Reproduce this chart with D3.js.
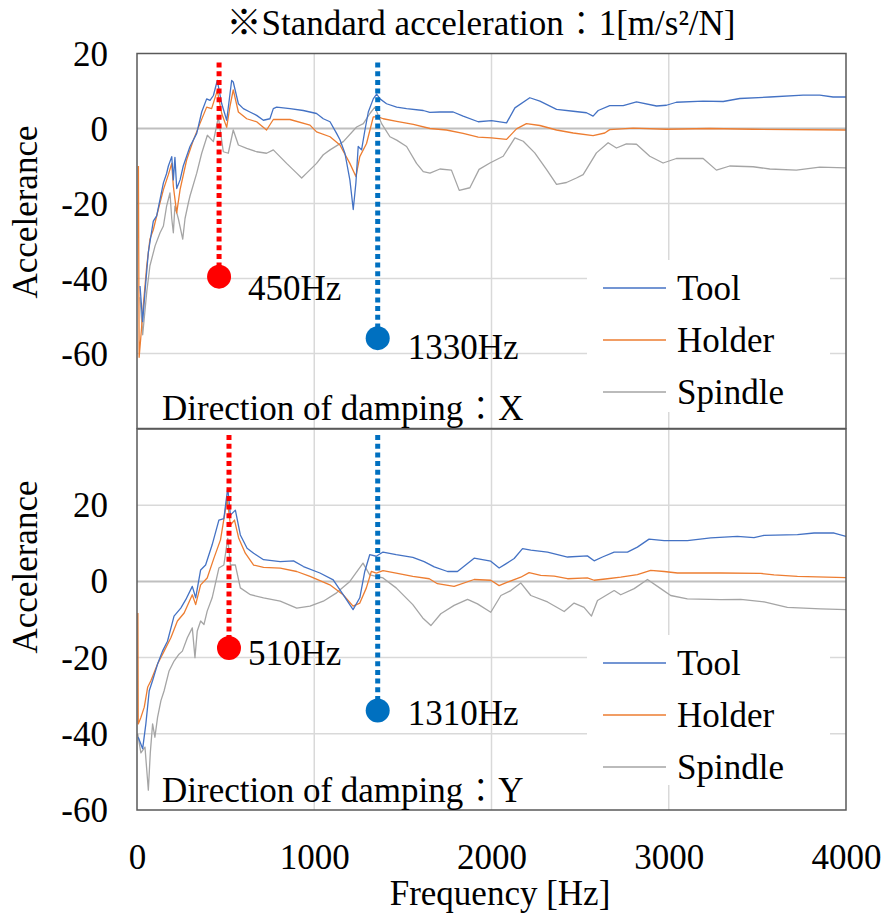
<!DOCTYPE html>
<html>
<head>
<meta charset="utf-8">
<script src="https://cdn.jsdelivr.net/npm/d3@7/dist/d3.min.js"></script>
<style>
  html, body { margin: 0; padding: 0; background: #fff; }
  svg text { font-family: "Liberation Serif", "Times New Roman", "Noto Serif CJK JP", "Noto Sans CJK JP", serif; fill: #000; }
</style>
</head>
<body>
<svg id="chart" width="887" height="919"></svg>
<script>
// ---------------- DATA ----------------
const seriesNames = ["Tool", "Holder", "Spindle"];
const freqTicks = [0, 1000, 2000, 3000, 4000];
const yTicksTop = [20, 0, -20, -40, -60];
const yTicksBottom = [20, 0, -20, -40, -60];
const titleText = "※Standard acceleration：1[m/s²/N]";
const xAxisTitle = "Frequency [Hz]";
const yAxisTitle = "Accelerance";
const panelLabels = ["Direction of damping：X", "Direction of damping：Y"];

// Direction X (top panel): [frequency Hz, accelerance]
const toolX = [[17,-42],[32,-51.5],[45,-43.6],[64,-33],[92,-24.7],[111,-23.3],[149,-14.5],[167,-12],[177,-10],[196,-7.5],[205,-13.7],[214,-7.7],[224,-16],[243,-13.7],[261,-10],[299,-4.8],[337,-1.3],[365,4.4],[393,7.9],[412,7.5],[431,8.8],[453,12.8],[478,6.6],[506,2.2],[534,12.8],[543,12.4],[572,6.6],[600,5.3],[637,4.4],[675,3.5],[713,2.2],[750,2.6],[769,5.3],[788,5.7],[863,5.3],[938,4.8],[1013,4],[1051,2.6],[1089,1.8],[1126,-1.3],[1145,-3],[1173,-6.6],[1201,-13.7],[1220,-21.6],[1235,-14.5],[1248,-4.8],[1267,-5.7],[1286,-0.4],[1305,4.4],[1333,7.9],[1352,9.2],[1371,7.9],[1408,6.6],[1465,5.7],[1521,5.3],[1615,4.8],[1652,4.3],[1709,4.4],[1784,4.4],[1840,3.3],[1925,1.8],[2000,2.1],[2085,1.5],[2132,5.5],[2216,8.2],[2273,7.3],[2367,5.1],[2461,4.6],[2536,4.2],[2573,3.3],[2602,4.8],[2667,6.1],[2743,6.1],[2818,7.1],[2931,6],[2987,6.2],[3043,7],[3194,7.3],[3307,7.2],[3401,8],[3570,8.4],[3758,8.9],[3852,8.9],[3927,8.4],[4000,8.4]];
const holderX = [[8,-10],[12,-61],[21,-56],[36,-47],[55,-36.6],[73,-29.5],[92,-27],[120,-21.6],[149,-16.3],[177,-12.3],[196,-9.3],[205,-15.4],[224,-22.5],[243,-16.3],[280,-8.4],[318,-3.1],[355,1.3],[393,5.7],[421,5.3],[453,10.1],[478,4],[506,0.3],[525,6],[543,10.3],[572,4.4],[619,2.6],[675,1.8],[731,-0.4],[769,2.4],[863,2.4],[976,0.9],[1013,-0.9],[1089,-2.2],[1145,-4.4],[1201,-9.3],[1235,-12.8],[1257,-7.5],[1295,-4],[1333,3.1],[1361,3.1],[1389,2.6],[1465,1.9],[1559,1.1],[1653,0],[1746,-0.4],[1840,-1.3],[1925,-2.3],[2000,-2.5],[2085,-2.9],[2141,-0.1],[2197,1.3],[2273,0.8],[2367,-0.4],[2461,-1.2],[2573,-1.9],[2639,-1.2],[2667,-0.3],[2799,0.1],[2987,-0.2],[3231,0],[3476,-0.2],[4000,-0.4]];
const spindleX = [[17,-45],[32,-55],[55,-43.6],[73,-36.6],[102,-31.3],[130,-27.8],[149,-26],[167,-20.7],[186,-17.2],[196,-24],[205,-27.8],[214,-20.7],[233,-24],[258,-29.5],[271,-24],[290,-19.8],[299,-18],[337,-11.9],[365,-6.6],[397,-1.8],[431,-3.5],[459,3.1],[487,-6.2],[515,-6.6],[543,-0.4],[572,-4.4],[619,-5.3],[675,-6.2],[731,-6.6],[769,-5.7],[844,-9.3],[901,-11.9],[929,-13.2],[957,-11.9],[1013,-9.3],[1051,-7],[1089,-5.7],[1164,-3.5],[1239,0.4],[1277,1.3],[1314,4],[1342,5.7],[1380,1.3],[1427,-2.2],[1465,-3.1],[1521,-4.8],[1577,-9.3],[1615,-11.5],[1653,-11.9],[1709,-10.8],[1774,-11.1],[1818,-16.5],[1878,-15.8],[1930,-10.9],[1991,-9.2],[2066,-7.4],[2132,-2.5],[2179,-3.4],[2244,-6.5],[2310,-10.9],[2367,-14.9],[2423,-14.4],[2479,-13.2],[2517,-12.3],[2592,-6.5],[2658,-3.8],[2705,-5.2],[2761,-4.1],[2818,-4.2],[2893,-7.4],[2968,-9.2],[3043,-8],[3194,-8],[3269,-11.1],[3344,-10],[3476,-10.2],[3570,-10.8],[3720,-11.1],[3852,-10.3],[4000,-10.5]];

// Direction Y (bottom panel)
const toolY = [[7,-40.9],[32,-43.9],[50,-37.4],[69,-28.7],[88,-26],[116,-21.7],[144,-18.3],[172,-15.7],[209,-9.1],[247,-7],[275,-4.8],[312,-1.3],[331,-4.3],[359,3],[387,4.3],[424,9.6],[462,16.1],[490,16.5],[512,24.5],[527,17.4],[555,18.7],[583,12.2],[621,8.7],[658,7.4],[714,5.7],[808,5.2],[883,5.4],[939,3.9],[1032,2.2],[1107,0.4],[1163,-3.5],[1219,-7.4],[1257,-4.3],[1285,2.6],[1313,7],[1350,6.6],[1388,7.7],[1462,7],[1556,6.3],[1620,5.2],[1677,3.8],[1752,2.6],[1808,2.6],[1902,6.1],[1996,5.3],[2043,3.5],[2081,4.6],[2128,6],[2175,8.6],[2222,8.2],[2316,7.7],[2429,6.4],[2541,6.7],[2579,5.4],[2626,6.4],[2692,7.7],[2767,7.7],[2823,9],[2889,11.1],[2974,10.7],[3105,10.7],[3237,11.4],[3387,11.8],[3481,11.5],[3538,12.1],[3726,12.3],[3820,12.7],[3933,12.7],[4000,11.8]];
const holderY = [[5,-8.3],[7,-37.4],[22,-35.7],[41,-33],[60,-27.8],[79,-26],[116,-21.7],[153,-18.3],[191,-14.8],[228,-10.4],[266,-8.3],[312,-3.5],[331,-6.1],[359,-0.9],[396,0.9],[434,6.1],[471,10.9],[509,21.7],[527,14.8],[550,16.1],[574,11.3],[611,7.4],[658,4.3],[714,3.7],[808,3.5],[901,2.6],[976,1.3],[1088,-0.9],[1163,-3.5],[1219,-6.5],[1257,-5.7],[1294,-1.7],[1322,2.6],[1350,2.2],[1388,2.8],[1462,2.2],[1556,1.3],[1649,0.7],[1695,-0.6],[1789,-1.3],[1902,0.5],[1996,0.3],[2043,-1.1],[2090,-0.2],[2165,1.1],[2212,2.3],[2278,1.6],[2354,1.4],[2429,0.7],[2541,0.9],[2579,0.3],[2654,0.7],[2729,1.1],[2823,1.8],[2898,2.9],[2974,2.6],[3049,2.2],[3293,2.2],[3519,2.1],[3594,1.7],[3726,1.3],[4000,1]];
const spindleY = [[4,-40],[22,-45],[45,-43.5],[64,-54.8],[75,-45],[88,-37.4],[101,-40.9],[116,-35.7],[135,-31.3],[153,-28.7],[181,-23.5],[209,-20.9],[237,-19.1],[256,-18.3],[284,-14.8],[312,-12.2],[327,-20],[340,-13],[359,-10.4],[378,-11.3],[396,-7.8],[424,-4.3],[462,3.5],[490,4.3],[512,11.3],[527,4.3],[555,4.3],[583,-1.7],[640,-3.5],[714,-4.3],[808,-5.2],[901,-7],[976,-6.5],[1051,-5.2],[1126,-3],[1201,0],[1275,4.8],[1313,1.7],[1388,0.9],[1462,-1.7],[1556,-6.1],[1612,-9.6],[1658,-11.6],[1714,-8.5],[1789,-6.3],[1865,-4.7],[1921,-5.9],[1996,-8.1],[2053,-3.7],[2109,-2.4],[2165,-0.4],[2222,-3.7],[2316,-5.4],[2410,-7.9],[2466,-5.7],[2522,-6.8],[2564,-9.1],[2598,-5],[2692,-2.4],[2729,-3.5],[2805,-1.9],[2880,0.5],[2955,-1.9],[3011,-3.7],[3105,-4.6],[3293,-4.8],[3406,-4.7],[3538,-5.4],[3669,-6.8],[3857,-7.2],[4000,-7.4]];

// Resonance markers: frequency position, marker value, label
const markerFreqX = [463, 1358];
const markerValX = [-39.5, -55.9];
const markerLabelX = ["450Hz", "1330Hz"];
const markerFreqY = [519, 1358];
const markerValY = [-17.5, -33.9];
const markerLabelY = ["510Hz", "1310Hz"];

// ---------------- STYLE / LAYOUT ----------------
const seriesColors = ["#4472C4", "#ED7D31", "#A5A5A5"];
const markerColors = ["#FF0000", "#0070C0"];
const W = 887, H = 919;
const left = 137, right = 846;
const FS = 35;

const svg = d3.select("#chart");
const x = d3.scaleLinear().domain([0, 4000]).range([left, right]);

const panels = [
  { domain: [-80, 20], range: [428.5, 53.5], ticks: yTicksTop, data: [toolX, holderX, spindleX],
    mF: markerFreqX, mV: markerValX, mL: markerLabelX, label: panelLabels[0],
    lineTop: 9, labelOff: [[29, 23], [30, 20.5]], legendY: 260, legendH: 152, labelBase: 420, ytitle: 212, gridTop: 20 },
  { domain: [-60, 40], range: [810, 429], ticks: yTicksBottom, data: [toolY, holderY, spindleY],
    mF: markerFreqY, mV: markerValY, mL: markerLabelY, label: panelLabels[1],
    lineTop: 6, labelOff: [[19, 17], [30, 14.5]], legendY: 635, legendH: 150, labelBase: 802, ytitle: 567, gridTop: 40 }
];

panels.forEach((p, pi) => {
  const y = d3.scaleLinear().domain(p.domain).range(p.range);
  const top = p.range[1], bottom = p.range[0];
  const g = svg.append("g");

  // clip
  const clipId = "clip" + pi;
  svg.append("clipPath").attr("id", clipId).append("rect")
    .attr("x", left).attr("y", top).attr("width", right - left).attr("height", bottom - top);

  // vertical gridlines
  g.append("g").selectAll("line").data(freqTicks.filter(t => t > 0 && t < 4000)).join("line")
    .attr("x1", d => x(d)).attr("x2", d => x(d)).attr("y1", top).attr("y2", bottom)
    .attr("stroke", "#d9d9d9").attr("stroke-width", 1.5);
  // horizontal gridlines
  const hTicks = d3.range(p.domain[0] + 20, p.domain[1], 20);
  g.append("g").selectAll("line").data(hTicks).join("line")
    .attr("x1", left).attr("x2", right).attr("y1", d => y(d)).attr("y2", d => y(d))
    .attr("stroke", d => d === 0 ? "#bfbfbf" : "#d9d9d9").attr("stroke-width", d => d === 0 ? 2 : 1.5);

  // series lines
  const line = d3.line().x(d => x(d[0])).y(d => y(d[1]));
  const sg = g.append("g").attr("clip-path", `url(#${clipId})`);
  [2, 1, 0].forEach(si => {
    sg.append("path").datum(p.data[si]).attr("d", line)
      .attr("fill", "none").attr("stroke", seriesColors[si]).attr("stroke-width", 1.3)
      .attr("stroke-linejoin", "round");
  });

  // legend
  const lg = g.append("g");
  lg.append("rect").attr("x", 587).attr("y", p.legendY).attr("width", 243).attr("height", p.legendH).attr("fill", "#fff");
  seriesNames.forEach((n, i) => {
    const ly = p.legendY + 28 + i * 52;
    lg.append("line").attr("x1", 603).attr("x2", 666).attr("y1", ly).attr("y2", ly)
      .attr("stroke", seriesColors[i]).attr("stroke-width", 1.3);
    lg.append("text").attr("x", 677).attr("y", ly + 12).attr("font-size", FS).text(n);
  });

  // frame
  g.append("rect").attr("x", left).attr("y", top).attr("width", right - left).attr("height", bottom - top)
    .attr("fill", "none").attr("stroke", "#595959").attr("stroke-width", 1.5);

  // y axis
  const ya = d3.axisLeft(y).tickValues(p.ticks).tickSize(0).tickPadding(0).tickFormat(d3.format("d"));
  const yg = g.append("g").attr("transform", `translate(108,0)`).call(ya);
  yg.select(".domain").remove();
  yg.selectAll("text").attr("font-size", FS).attr("font-family", null).attr("x", 0).attr("dy", "0.33em")
    .text(d => d < 0 ? "-" + Math.abs(d) : d);

  // y title
  g.append("text").attr("transform", `translate(37,${p.ytitle}) rotate(-90)`)
    .attr("text-anchor", "middle").attr("font-size", FS).text(yAxisTitle);

  // markers
  p.mF.forEach((f, i) => {
    const cx = x(f), cy = y(p.mV[i]);
    g.append("line").attr("x1", cx).attr("x2", cx).attr("y1", top + p.lineTop).attr("y2", cy)
      .attr("stroke", markerColors[i]).attr("stroke-width", 5).attr("stroke-dasharray", "5,3.7");
    g.append("circle").attr("cx", cx).attr("cy", cy).attr("r", 12).attr("fill", markerColors[i]);
    g.append("text").attr("x", cx + p.labelOff[i][0]).attr("y", cy + p.labelOff[i][1])
      .attr("font-size", FS).text(p.mL[i]);
  });

  // panel label
  g.append("text").attr("x", 162).attr("y", p.labelBase).attr("font-size", FS).text(p.label);
});

// x axis (bottom)
const xa = d3.axisBottom(x).tickValues(freqTicks).tickSize(0).tickPadding(0).tickFormat(d3.format("d"));
const xg = svg.append("g").attr("transform", "translate(0,869)").call(xa);
xg.select(".domain").remove();
xg.selectAll("text").attr("font-size", FS).attr("font-family", null).attr("y", 0).attr("dy", 0);

svg.append("text").attr("x", 500).attr("y", 905).attr("text-anchor", "middle").attr("font-size", FS).text(xAxisTitle);

// title
svg.append("text").attr("x", 481).attr("y", 35).attr("text-anchor", "middle").attr("font-size", FS).text(titleText);
</script>
</body>
</html>
